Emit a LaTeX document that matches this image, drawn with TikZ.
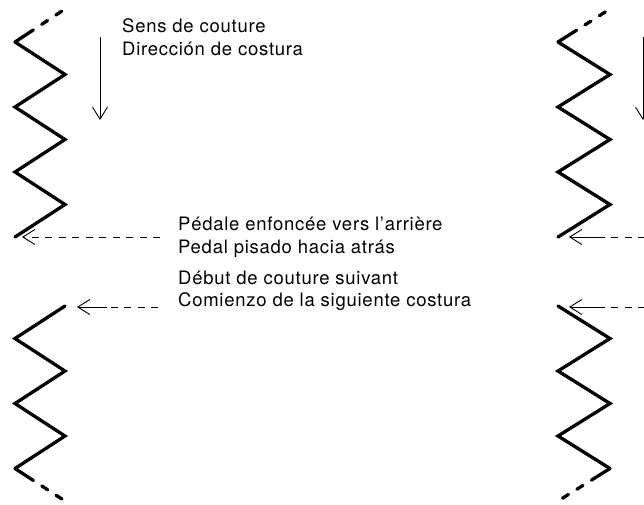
\documentclass[tikz,border=0pt]{standalone}
\usepackage{fontspec}
\setmainfont{TeX Gyre Heros}[LetterSpace=4]
\usetikzlibrary{arrows.meta}

\begin{document}
\begin{tikzpicture}[x=1pt, y=-1pt,
    stitch/.style={line width=3.3pt, line cap=round, line join=miter},
    stitchend/.style={stitch, dash pattern=on 22pt off 10pt on 7pt off 10pt on 7pt off 20pt},
    guide/.style={line width=0.9pt, -{Straight Barb[length=12pt,width=15pt]}},
    dashguide/.style={line width=0.9pt, dash pattern=on 7pt off 6.5pt},
    txt/.style={anchor=base west, inner sep=0pt, font=\fontsize{18.5}{22}\selectfont}]
    \useasboundingbox (0,0) rectangle (644,504);
    \clip (0,0) rectangle (644,504);

    % left seam
    \draw[stitchend] (15,42) -- (65,9);
    \draw[stitch] (15,42) -- (65,74.5) -- (15,107) -- (65,139.5) -- (15,172) -- (65,204.5) -- (15,237);
    \draw[stitch] (65,306) -- (15,338.5) -- (65,371) -- (15,403.5) -- (65,436) -- (15,468.5);
    \draw[stitchend] (15,468.5) -- (65,501);

    % right seam
    \draw[stitchend] (558,42) -- (610,9);
    \draw[stitch] (558,42) -- (610,74.5) -- (558,107) -- (610,139.5) -- (558,172) -- (610,204.5) -- (558,237);
    \draw[stitch] (558,306) -- (610,338.5) -- (558,371) -- (610,403.5) -- (558,436) -- (610,468.5);
    \draw[stitchend] (610,468.5) -- (558,501);

    % texts
    \node[txt] (sensFr) at (122,32) {Sens de couture};
    \node[txt] (sensEs) at (122,55) {Dirección de costura};
    \node[txt] (pedalFr) at (178,230) {Pédale enfoncée vers l’arrière};
    \node[txt] (pedalEs) at (178,253) {Pedal pisado hacia atrás};
    \node[txt] (nextFr) at (178,284) {Début de couture suivant};
    \node[txt] (nextEs) at (178,306) {Comienzo de la siguiente costura};

    % guide points
    \coordinate (sensTop) at (100,37);
    \coordinate (sensTip) at (100,120);
    \coordinate (pedalTail) at (160,237);
    \coordinate (pedalTip) at (22,237);
    \coordinate (nextTail) at (158,307);
    \coordinate (nextMid) at (107,307);
    \coordinate (nextTip) at (77,307);
    \coordinate (sensTopR) at (643,37);
    \coordinate (sensTipR) at (643,120);
    \coordinate (pedalTailR) at (700,237);
    \coordinate (pedalMidR) at (604,237);
    \coordinate (pedalTipR) at (569,237);
    \coordinate (nextTailR) at (700,307);
    \coordinate (nextMidR) at (604,307);
    \coordinate (nextTipR) at (569,307);

    \draw[guide] (sensTop) -- (sensTip);
    \draw[guide,dashguide] (pedalTail) -- (pedalTip);
    \draw[dashguide] (nextTail) -- (nextMid);
    \draw[guide] (nextMid) -- (nextTip);

    \draw[guide] (sensTopR) -- (sensTipR);
    \draw[dashguide, dash phase=6.5pt] (pedalMidR) -- (pedalTailR);
    \draw[guide] (pedalMidR) -- (pedalTipR);
    \draw[dashguide, dash phase=6.5pt] (nextMidR) -- (nextTailR);
    \draw[guide] (nextMidR) -- (nextTipR);
\end{tikzpicture}
\end{document}
